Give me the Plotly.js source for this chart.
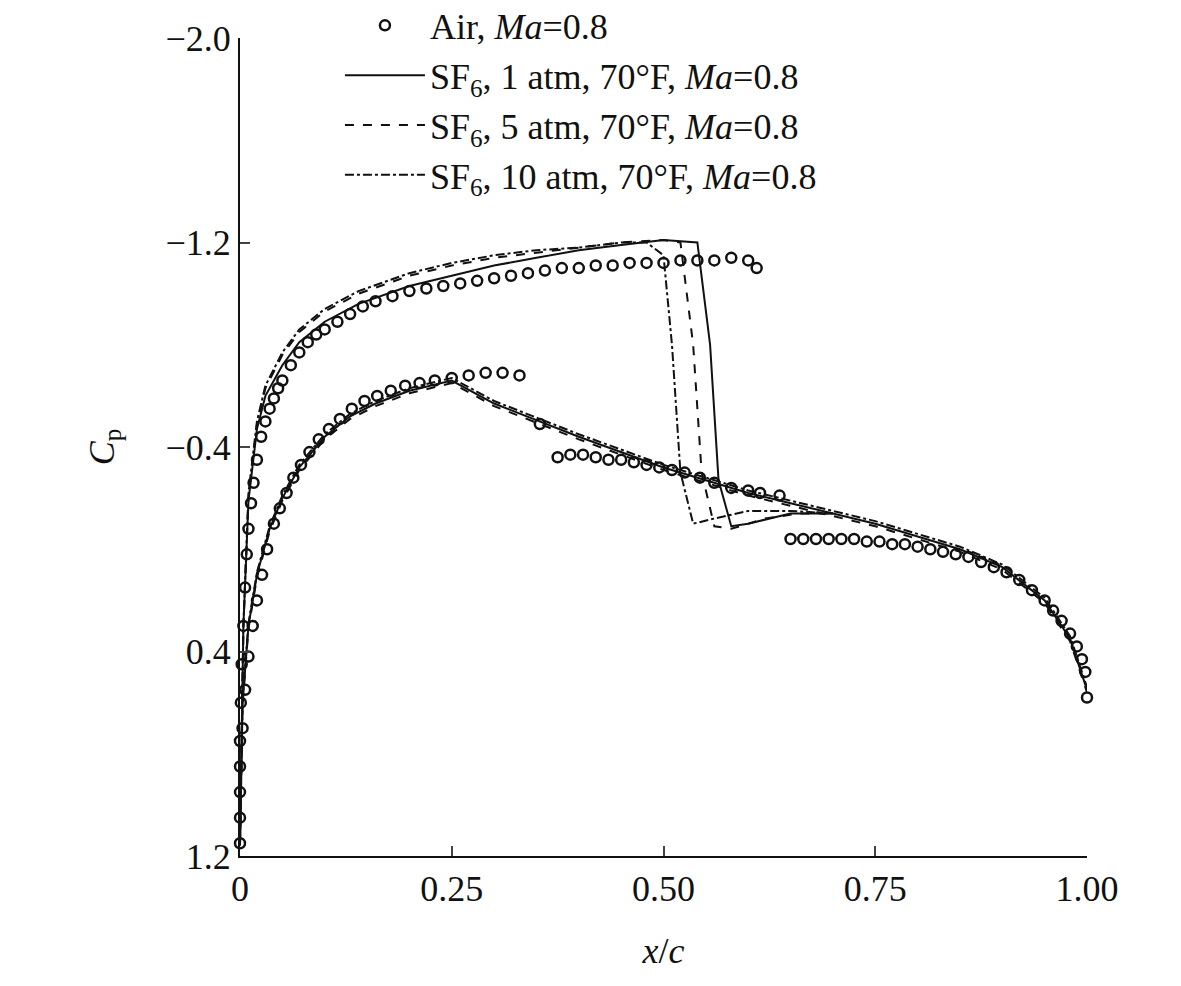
<!DOCTYPE html>
<html>
<head>
<meta charset="utf-8">
<script src="https://cdn.plot.ly/plotly-3.0.1.min.js"></script>
<style>body{margin:0;background:#fff}#chart{width:1181px;height:986px}</style>
</head>
<body>
<div id="chart"></div>
<script>
// Air, Ma=0.8 (open circles)
const airX = [0, 0, 0, 0, 0, 0.001, 0.002, 0.004, 0.006, 0.008, 0.01, 0.013, 0.016, 0.02, 0.025, 0.03, 0.035, 0.04, 0.045, 0.05, 0.06, 0.07, 0.08, 0.09, 0.1, 0.115, 0.13, 0.145, 0.16, 0.18, 0.2, 0.22, 0.24, 0.26, 0.28, 0.3, 0.32, 0.34, 0.36, 0.38, 0.4, 0.42, 0.44, 0.46, 0.48, 0.5, 0.52, 0.54, 0.56, 0.58, 0.6, 0.61,
  null,
  0.003, 0.006, 0.01, 0.015, 0.02, 0.026, 0.032, 0.04, 0.047, 0.055, 0.063, 0.072, 0.082, 0.093, 0.105, 0.118, 0.132, 0.147, 0.162, 0.178, 0.195, 0.212, 0.23, 0.25, 0.27, 0.29, 0.31, 0.33,
  0.354, 0.375, 0.39, 0.405, 0.42, 0.435, 0.45, 0.465, 0.48, 0.495, 0.51, 0.525, 0.543, 0.56, 0.58, 0.6, 0.614, 0.637,
  0.65, 0.665, 0.68, 0.695, 0.71, 0.725, 0.74, 0.755, 0.77, 0.785, 0.8, 0.815, 0.83, 0.845, 0.86, 0.875, 0.89, 0.905, 0.92, 0.935, 0.95, 0.96, 0.97, 0.98, 0.988, 0.994, 0.998, 1.0];
const airCp = [1.15, 1.05, 0.95, 0.85, 0.75, 0.6, 0.45, 0.3, 0.15, 0.02, -0.08, -0.18, -0.26, -0.35, -0.44, -0.5, -0.55, -0.59, -0.63, -0.66, -0.72, -0.77, -0.81, -0.84, -0.86, -0.89, -0.92, -0.95, -0.97, -0.99, -1.01, -1.02, -1.03, -1.04, -1.05, -1.06, -1.07, -1.08, -1.09, -1.1, -1.1, -1.11, -1.11, -1.12, -1.12, -1.12, -1.13, -1.13, -1.13, -1.14, -1.13, -1.1,
  null,
  0.7, 0.55, 0.42, 0.3, 0.2, 0.1, 0.0, -0.1, -0.16, -0.22, -0.28, -0.33, -0.38, -0.43, -0.47, -0.51, -0.55, -0.58, -0.6, -0.62, -0.64, -0.65, -0.66, -0.67, -0.68, -0.69, -0.69, -0.68,
  -0.49, -0.36, -0.37, -0.37, -0.36, -0.35, -0.35, -0.34, -0.33, -0.32, -0.31, -0.3, -0.28, -0.26, -0.24, -0.23, -0.22, -0.21,
  -0.04, -0.04, -0.04, -0.04, -0.04, -0.04, -0.03, -0.03, -0.02, -0.02, -0.01, 0.0, 0.01, 0.02, 0.03, 0.05, 0.07, 0.09, 0.12, 0.16, 0.2, 0.24, 0.28, 0.33, 0.38, 0.43, 0.48, 0.58];

// SF6 lower surface (shared shape, slight offsets)
const lowX = [0, 0.003, 0.01, 0.02, 0.035, 0.05, 0.07, 0.1, 0.13, 0.16, 0.2, 0.25, 0.3, 0.4, 0.5, 0.55, 0.6, 0.65, 0.7, 0.75, 0.8, 0.85, 0.9, 0.95, 0.98, 1.0];
const lowCp = [1.15, 0.6, 0.3, 0.1, -0.08, -0.2, -0.32, -0.44, -0.52, -0.57, -0.62, -0.66, -0.57, -0.44, -0.32, -0.27, -0.22, -0.18, -0.14, -0.1, -0.05, 0.0, 0.07, 0.2, 0.35, 0.55];

// SF6 upper surfaces
const up1X = [0, 0.004, 0.01, 0.02, 0.03, 0.05, 0.07, 0.1, 0.14, 0.2, 0.25, 0.3, 0.35, 0.4, 0.45, 0.5, 0.54, 0.555, 0.565, 0.58, 0.6, 0.65, 0.7];
const up1Cp = [1.15, 0.3, -0.19, -0.47, -0.6, -0.72, -0.81, -0.89, -0.96, -1.03, -1.07, -1.11, -1.14, -1.17, -1.19, -1.21, -1.2, -0.8, -0.27, -0.09, -0.1, -0.14, -0.14];
const up5X = [0, 0.004, 0.01, 0.02, 0.03, 0.05, 0.07, 0.1, 0.14, 0.2, 0.25, 0.3, 0.35, 0.4, 0.45, 0.5, 0.52, 0.535, 0.545, 0.56, 0.58, 0.62, 0.66, 0.7];
const up5Cp = [1.15, 0.3, -0.2, -0.49, -0.63, -0.76, -0.85, -0.93, -1.0, -1.07, -1.11, -1.14, -1.16, -1.18, -1.2, -1.21, -1.2, -0.8, -0.3, -0.09, -0.08, -0.12, -0.14, -0.14];
const up10X = [0, 0.004, 0.01, 0.02, 0.03, 0.05, 0.07, 0.1, 0.14, 0.2, 0.25, 0.3, 0.35, 0.4, 0.45, 0.48, 0.5, 0.51, 0.52, 0.535, 0.56, 0.6, 0.65, 0.7];
const up10Cp = [1.15, 0.3, -0.22, -0.5, -0.64, -0.77, -0.86, -0.94, -1.01, -1.08, -1.12, -1.15, -1.17, -1.18, -1.2, -1.2, -1.15, -0.8, -0.3, -0.1, -0.12, -0.15, -0.15, -0.14];

const legendNames = [
  'Air, <i>Ma</i>=0.8',
  'SF<sub>6</sub>, 1 atm, 70°F, <i>Ma</i>=0.8',
  'SF<sub>6</sub>, 5 atm, 70°F, <i>Ma</i>=0.8',
  'SF<sub>6</sub>, 10 atm, 70°F, <i>Ma</i>=0.8',
];

const ln = (dash) => ({ color: '#111', width: 2, dash });
const traces = [
  { type: 'scatter', mode: 'markers', x: airX, y: airCp, name: legendNames[0], cliponaxis: false,
    marker: { symbol: 'circle-open', size: 10, color: '#111', line: { width: 2.5 } } },
  { type: 'scatter', mode: 'lines', x: up1X, y: up1Cp, name: legendNames[1], line: ln('solid'), cliponaxis: false },
  { type: 'scatter', mode: 'lines', x: up5X, y: up5Cp, name: legendNames[2], line: ln('dash'), cliponaxis: false },
  { type: 'scatter', mode: 'lines', x: up10X, y: up10Cp, name: legendNames[3], line: ln('dashdot'), cliponaxis: false },
  { type: 'scatter', mode: 'lines', x: lowX, y: lowCp, showlegend: false, line: ln('solid'), cliponaxis: false },
  { type: 'scatter', mode: 'lines', x: lowX, y: lowCp.map(v => v + 0.01), showlegend: false, line: ln('dash'), cliponaxis: false },
  { type: 'scatter', mode: 'lines', x: lowX, y: lowCp.map(v => v - 0.01), showlegend: false, line: ln('dashdot'), cliponaxis: false },
];

const axisFont = { family: 'Liberation Serif', size: 36, color: '#111' };

Plotly.newPlot('chart', traces, {
  width: 1181, height: 986,
  paper_bgcolor: '#fff', plot_bgcolor: '#fff',
  font: axisFont,
  margin: { l: 240, r: 94, t: 38, b: 130, autoexpand: false },
  xaxis: {
    range: [0, 1], tickvals: [0, 0.25, 0.5, 0.75, 1.0], ticktext: ['0', '0.25', '0.50', '0.75', '1.00'],
    showgrid: false, zeroline: false, showline: true, linecolor: '#111', linewidth: 2,
    ticks: 'inside', ticklen: 10, tickwidth: 2, tickfont: axisFont,
    title: { text: '<i>x</i>/<i>c</i>', font: axisFont, standoff: 30 },
  },
  yaxis: {
    range: [1.2, -2.0], tickvals: [-2.0, -1.2, -0.4, 0.4, 1.2], ticktext: ['−2.0', '−1.2', '−0.4', '0.4', '1.2'],
    showgrid: false, zeroline: false, showline: true, linecolor: '#111', linewidth: 2,
    ticks: 'inside', ticklen: 10, tickwidth: 2, tickfont: axisFont,
    title: { text: '<i>C</i><sub>p</sub>', font: axisFont, standoff: 40 },
  },
  legend: {
    x: 0.118, y: 1.052, xanchor: 'left', yanchor: 'top',
    bgcolor: 'rgba(255,255,255,0)', font: { family: axisFont.family, size: 36, color: '#111' },
    tracegroupgap: 0, itemwidth: 80,
  },
  showlegend: true,
}, { displayModeBar: false });
</script>
</body>
</html>
